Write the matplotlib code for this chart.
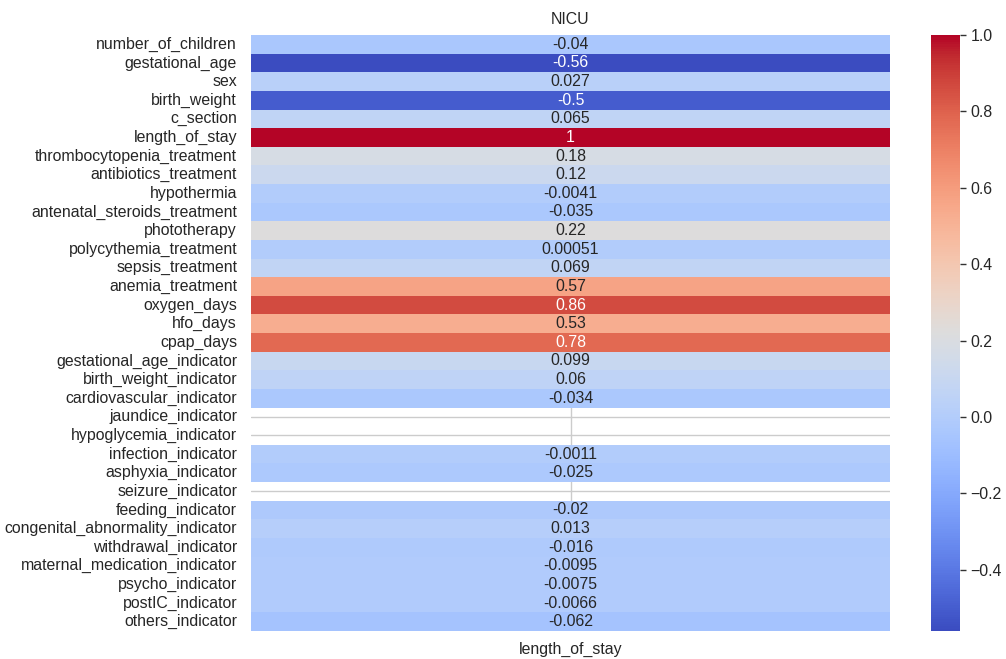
import numpy as np
import pandas as pd
import matplotlib
matplotlib.use("Agg")
import matplotlib.pyplot as plt
import seaborn as sns

features = [
    "number_of_children", "gestational_age", "sex", "birth_weight", "c_section",
    "length_of_stay", "thrombocytopenia_treatment", "antibiotics_treatment",
    "hypothermia", "antenatal_steroids_treatment", "phototherapy",
    "polycythemia_treatment", "sepsis_treatment", "anemia_treatment",
    "oxygen_days", "hfo_days", "cpap_days", "gestational_age_indicator",
    "birth_weight_indicator", "cardiovascular_indicator", "jaundice_indicator",
    "hypoglycemia_indicator", "infection_indicator", "asphyxia_indicator",
    "seizure_indicator", "feeding_indicator", "congenital_abnormality_indicator",
    "withdrawal_indicator", "maternal_medication_indicator", "psycho_indicator",
    "postIC_indicator", "others_indicator",
]
corr_los = [
    -0.04, -0.56, 0.027, -0.5, 0.065,
    1.0, 0.18, 0.12,
    -0.0041, -0.035, 0.22,
    0.00051, 0.069, 0.57,
    0.86, 0.53, 0.78, 0.099,
    0.06, -0.034, np.nan,
    np.nan, -0.0011, -0.025,
    np.nan, -0.02, 0.013,
    -0.016, -0.0095, -0.0075,
    -0.0066, -0.062,
]

df = pd.DataFrame({"length_of_stay": corr_los}, index=features)

sns.set_theme(style="whitegrid")
plt.rcParams["font.family"] = ["Liberation Sans", "DejaVu Sans"]
fs = 11.4

fig = plt.figure(figsize=(10.06, 6.59), dpi=100)
ax = fig.add_axes([251 / 1006, 1 - 631 / 659, 639 / 1006, 596 / 659])
cax = fig.add_axes([931 / 1006, 1 - 631 / 659, 29 / 1006, 596 / 659])

sns.heatmap(df, ax=ax, cbar_ax=cax, cmap="coolwarm", annot=True,
            annot_kws={"fontsize": fs})
ax.set_title("NICU", fontsize=fs, pad=8)
ax.tick_params(axis="both", labelsize=fs, length=0)
ax.tick_params(axis="x", pad=8)
ax.tick_params(axis="y", pad=10)
cax.tick_params(labelsize=fs, length=4, width=1, color="#333333")

fig.savefig("out.png", dpi=100)
